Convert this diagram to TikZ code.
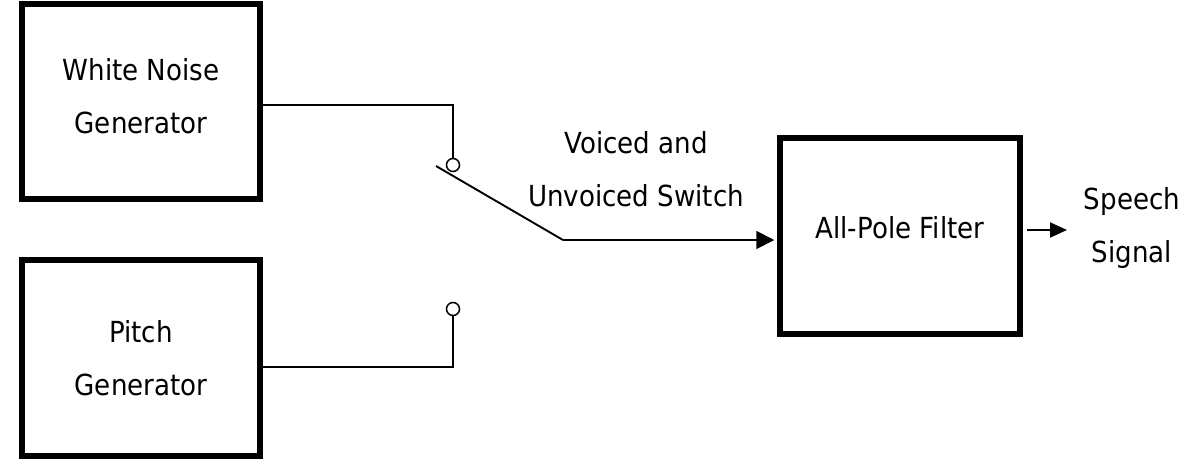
\documentclass[tikz,border=0pt]{standalone}
\usepackage{fontspec}
\setmainfont{DejaVu Sans}[FakeStretch=0.9]
\usetikzlibrary{arrows.meta}

\begin{document}
\begin{tikzpicture}[x=1pt,y=-1pt,
  font=\fontsize{29}{53}\selectfont,
  block/.style={draw,rectangle,line width=5.5pt,align=center},
  wire/.style={line width=1.9pt},
  contact/.style={draw,circle,line width=1.5pt,minimum size=13pt,inner sep=0pt}]
\useasboundingbox (0,0) rectangle (1188,469);
\node[block,minimum width=238pt,minimum height=195pt,text depth=12pt] (noise) at (141,101.5) {White Noise\\Generator};
\node[block,minimum width=238pt,minimum height=196pt] (pitch) at (141,358) {Pitch\\Generator};
\node[block,minimum width=240pt,minimum height=196pt,text depth=17pt] (filter) at (900,236) {All-Pole Filter};
\node[contact] (swa) at (453,165) {};
\node[contact] (swb) at (453,309) {};
\coordinate (tip) at (436,166);
\coordinate (pivot) at (563,240);
\coordinate (out) at (1067,230);
\node[align=center] (switch) at (636,169) {Voiced and\\Unvoiced Switch};
\node[align=center] (speech) at (1132,227.5) {Speech\\Signal};
\draw[wire] ([yshift=-3.5pt]noise.east) -| (swa.north);
\draw[wire] ([yshift=-9pt]pitch.east) -| (swb.south);
\draw[wire] (tip) -- (pivot);
\draw[wire,-{Triangle[length=18pt,width=18pt]},shorten >=3pt] (pivot) -- (pivot -| filter.west);
\draw[wire,-{Triangle[length=17pt,width=15pt]},shorten <=4pt] ([yshift=6pt]filter.east) -- (out);
\end{tikzpicture}
\end{document}
